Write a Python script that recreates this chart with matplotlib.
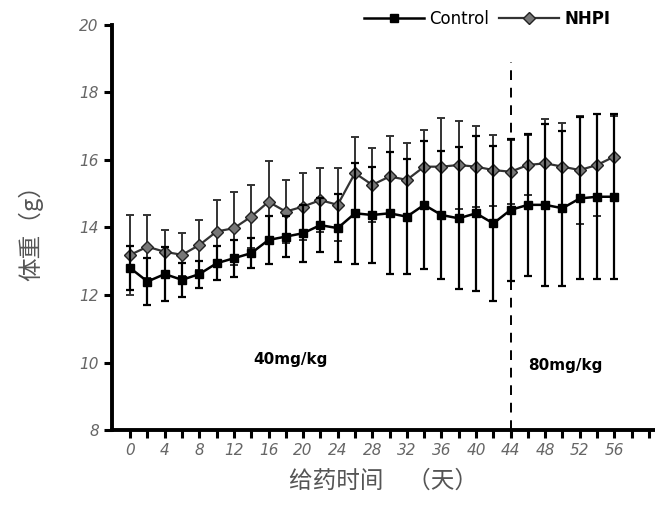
import matplotlib
matplotlib.use("Agg")
import matplotlib.pyplot as plt
from matplotlib.lines import Line2D
import numpy as np

plt.rcParams['font.family'] = ['Noto Sans CJK SC', 'DejaVu Sans']

days = list(range(0, 57, 2))
control = [12.80, 12.40, 12.62, 12.45, 12.62, 12.94, 13.09, 13.24, 13.63, 13.73,
           13.83, 14.07, 13.98, 14.42, 14.37, 14.42, 14.32, 14.67, 14.37, 14.27,
           14.42, 14.12, 14.52, 14.67, 14.67, 14.57, 14.86, 14.91, 14.91]
control_sd = [0.65, 0.70, 0.80, 0.50, 0.40, 0.50, 0.55, 0.45, 0.70, 0.60,
              0.85, 0.80, 1.00, 1.50, 1.43, 1.80, 1.70, 1.90, 1.90, 2.10,
              2.30, 2.30, 2.10, 2.10, 2.40, 2.30, 2.40, 2.45, 2.45]
nhpi = [13.19, 13.43, 13.28, 13.19, 13.48, 13.88, 13.98, 14.32, 14.76, 14.47,
        14.62, 14.81, 14.67, 15.61, 15.26, 15.51, 15.41, 15.80, 15.80, 15.85,
        15.80, 15.70, 15.65, 15.85, 15.90, 15.80, 15.70, 15.85, 16.10]
nhpi_sd = [1.18, 0.94, 0.65, 0.64, 0.74, 0.93, 1.08, 0.94, 1.20, 0.94,
           1.00, 0.95, 1.08, 1.08, 1.10, 1.20, 1.10, 1.10, 1.45, 1.30,
           1.20, 1.05, 0.95, 0.90, 1.30, 1.30, 1.60, 1.50, 1.20]
xtick_labels = list(range(0, 57, 4))
yticks = [8, 10, 12, 14, 16, 18, 20]

fig = plt.figure(figsize=(6.55, 5.17), dpi=100)
ax = fig.add_axes([0.171, 0.168, 0.829, 0.784])

ax.errorbar(days, nhpi, yerr=nhpi_sd, color='#333333', marker='D', markersize=6,
            markerfacecolor='#777777', markeredgecolor='#222222', linewidth=1.6,
            elinewidth=1.4, capsize=3, capthick=1.4, zorder=3)
ax.errorbar(days, control, yerr=control_sd, color='black', marker='s', markersize=6,
            markerfacecolor='black', markeredgecolor='black', linewidth=1.8,
            elinewidth=1.6, capsize=3, capthick=1.6, zorder=4)

ax.axvline(44, ymin=0, ymax=(18.9 - 8) / 12, color='black', linestyle=(0, (5, 4)), linewidth=1.4)

ax.set_xlim(-2.1, 60.7)
ax.set_ylim(8, 20)
ax.set_xticks(list(range(0, 61, 2)))
ax.set_xticklabels([str(d) if d in xtick_labels else '' for d in range(0, 61, 2)])
ax.set_yticks(yticks)
ax.set_yticklabels([str(v) for v in yticks])

for s in ['top', 'right']:
    ax.spines[s].set_visible(False)
for s in ['left', 'bottom']:
    ax.spines[s].set_linewidth(2.8)

ax.tick_params(axis='both', direction='out', width=2.2, length=6, colors='black',
               labelcolor='#666666', labelsize=11)
for lab in ax.get_xticklabels() + ax.get_yticklabels():
    lab.set_style('italic')
    lab.set_family('DejaVu Sans')

ax.text(18.5, 10.1, '40mg/kg', fontsize=11, fontweight='bold', ha='center', va='center',
        family='DejaVu Sans')
ax.text(50.3, 9.9, '80mg/kg', fontsize=11, fontweight='bold', ha='center', va='center',
        family='DejaVu Sans')

ax.set_ylabel('体重（g）', fontsize=17, color='#555555', labelpad=26)
ax.set_xlabel('给药时间　（天）', fontsize=17, color='#555555', labelpad=8)

h_control = Line2D([], [], color='black', marker='s', markersize=6, linewidth=1.8)
h_nhpi = Line2D([], [], color='#333333', marker='D', markersize=6, markerfacecolor='#777777',
                markeredgecolor='#222222', linewidth=1.6)
leg = ax.legend([h_control, h_nhpi], ['Control', 'NHPI'], loc='lower right',
                bbox_to_anchor=(0.93, 0.975), ncol=2, frameon=False, fontsize=12,
                handlelength=3.6, columnspacing=0.6, handletextpad=0.3, borderaxespad=0,
                prop={'family': 'DejaVu Sans', 'size': 12})
for t in leg.get_texts():
    if t.get_text() == 'NHPI':
        t.set_fontweight('bold')
ax.patch.set_visible(False)
fig.savefig('out.png', dpi=100)
